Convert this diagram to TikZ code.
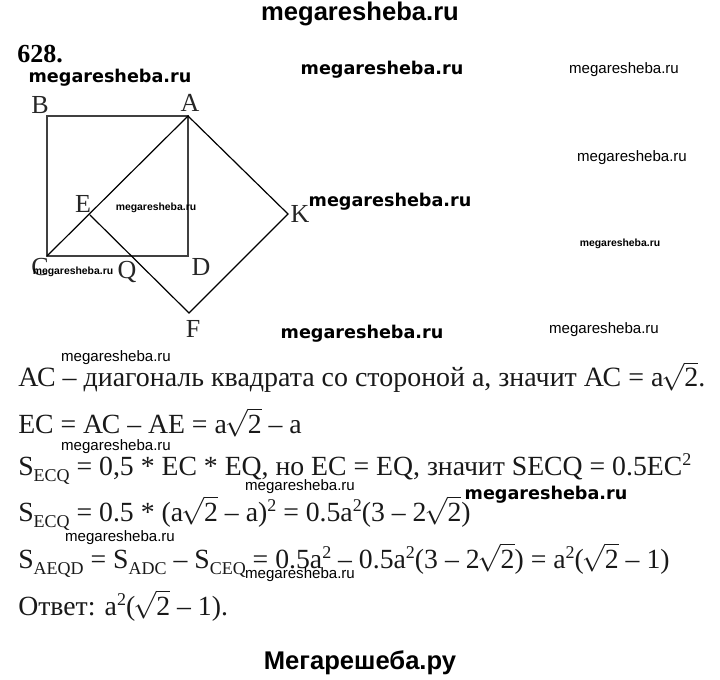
\documentclass[tikz,border=0pt]{standalone}
\usepackage{fontspec}
\setmainfont{Liberation Serif}
\setsansfont{Liberation Sans}
\newfontfamily\wmfont{DejaVu Sans}
\usetikzlibrary{positioning}
\newcommand{\rtwo}{\kern-1.5pt$\sqrt{\hbox{2}}$}
\newcommand{\idx}[1]{\raisebox{-4.5pt}{\fontsize{13.5}{14}\selectfont #1}}
\newcommand{\pw}[1]{\raisebox{7pt}{\fontsize{13.5}{14}\selectfont #1}}
\tikzset{
  figline/.style={line width=0.9pt,line join=miter},
  vertex/.style={inner sep=0pt,text=black!85,font=\fontsize{19.5}{20}\selectfont},
  solution/.style={anchor=base west,inner sep=0pt,text=black!90,font=\fontsize{20.8}{24}\selectfont},
  wmbig/.style={inner sep=0pt,font=\wmfont\bfseries\fontsize{13.2}{14}\selectfont},
  wmhead/.style={inner sep=0pt,font=\sffamily\bfseries\fontsize{19.2}{20}\selectfont},
  wmsmall/.style={inner sep=0pt,font=\sffamily\fontsize{11.3}{12}\selectfont},
  wmtiny/.style={inner sep=0pt,font=\sffamily\bfseries\fontsize{7.8}{9}\selectfont}
}
\begin{document}
\begin{tikzpicture}[x=0.75pt,y=-0.75pt]
  \useasboundingbox (0,0) rectangle (720,680);
  \coordinate (B) at (47,116);
  \coordinate (A) at (188,116);
  \coordinate (C) at (47,256);
  \coordinate (D) at (188,256);
  \coordinate (E) at (90,215);
  \coordinate (K) at (288,214);
  \coordinate (F) at (189,313);
  \draw[figline,black!75] (B)--(A)--(D)--(C)--cycle;
  \draw[figline] (C)--(A)--(K)--(F)--(E);
  \node[vertex] (labB) at (40,105) {B};\node[vertex] (labA) at (190,103) {A};
  \node[vertex] (labE) at (83,204) {E};\node[vertex] (labK) at (300,214) {K};
  \node[vertex] (labC) at (40,267) {C};\node[vertex] (labQ) at (127,272) {Q};
  \node[vertex] (labD) at (201,267) {D};\node[vertex] (labF) at (193,329) {F};
  \node[inner sep=0pt,anchor=base west,font=\bfseries\fontsize{19.5}{20}\selectfont] (num) at (17,63) {628.};
  % solution
  \node[solution,font=\fontsize{20.95}{24}\selectfont] (line1) at (18,387) {АС – диагональ квадрата со стороной а, значит АС = а\rtwo.};
  \node[solution] (line2) at (18,433) {ЕС = АС – АЕ = а\rtwo{} – а};
  \node[solution] (line3) at (18,475) {S\idx{ECQ} = 0,5 * ЕС * EQ, но ЕС = EQ, значит SECQ = 0.5EC\pw{2}};
  \node[solution] (line4) at (18,521) {S\idx{ECQ} = 0.5 * (а\rtwo{} – а)\pw{2} = 0.5а\pw{2}(3 – 2\rtwo)};
  \node[solution] (line5) at (18,568) {S\idx{AEQD} = S\idx{ADC} – S\idx{CEQ} = 0.5а\pw{2} – 0.5а\pw{2}(3 – 2\rtwo) = а\pw{2}(\rtwo{} – 1)};
  \node[solution] (line6) at (18,615) {Ответ: а\pw{2}(\rtwo{} – 1).};
  % watermarks
  \node[wmhead] (wmtop) at (360,14) {megaresheba.ru};
  \node[wmhead] (wmbottom) at (360,663) {Мегарешеба.ру};
  \foreach \n/\x/\y in {a/110/78,b/382/70,c/390/202,d/362/334,e/546/495}
    \node[wmbig] (wm\n) at (\x,\y) {megaresheba.ru};
  \foreach \n/\x/\y in {a/624/70,b/632/158,c/604/330,d/116/358,e/116/447,f/300/487,g/120/538,h/300/575}
    \node[wmsmall] (wms\n) at (\x,\y) {megaresheba.ru};
  \foreach \n/\x/\y in {a/156/208,b/73/272,c/620/244}
    \node[wmtiny] (wmt\n) at (\x,\y) {megaresheba.ru};
\end{tikzpicture}
\end{document}
